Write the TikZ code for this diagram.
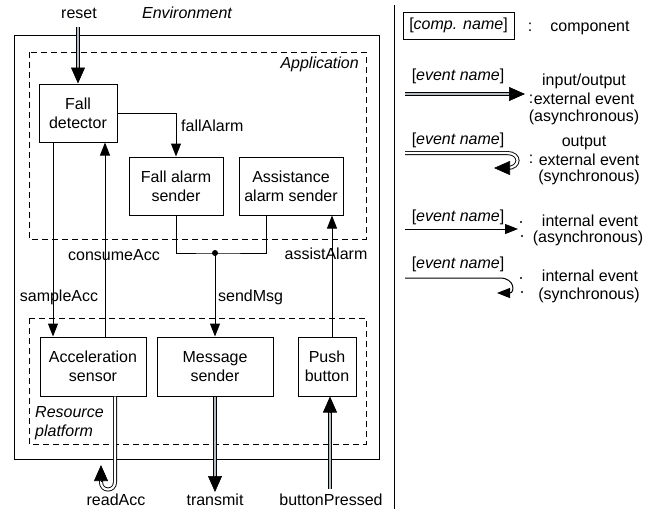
\documentclass[tikz,border=0pt]{standalone}
\usepackage{fontspec}
\setmainfont{Liberation Sans}
\usetikzlibrary{arrows.meta,calc}
\definecolor{dblgray}{RGB}{180,188,196}
\begin{document}
\begin{tikzpicture}[x=1pt,y=-1pt,
  font=\fontsize{16}{19}\selectfont,
  box/.style={draw, line width=1pt, align=center, inner sep=0pt, minimum width=#1, minimum height=58pt},
  conn/.style={line width=1pt},
  intarr/.style={conn, -{Triangle[length=13pt,width=10pt]}},
  extline/.style={line width=0.9pt, double=#1, double distance=2.2pt},
  extline/.default=dblgray,
  exttip/.style={line width=0.6pt, -{Triangle[length=16pt,width=14pt]}},
  dashbox/.style={line width=1pt, dash pattern=on 6pt off 4pt},
  lbl/.style={inner sep=0pt},
  ital/.style={inner sep=0pt, font=\fontsize{16}{19}\selectfont\itshape}
]
\useasboundingbox (0,0) rectangle (658,509);

% frames
\draw[line width=1pt] (14,35) rectangle (379,459);
\draw[dashbox] (29,52) rectangle (366,239);
\draw[dashbox] (29,318) rectangle (366,444);
\draw[line width=1pt] (394,5) -- (394,509);

\node[ital] (envl) at (187,13) {Environment};
\node[ital, anchor=east] (appl) at (359,64) {Application};
\node[ital, anchor=west, align=left] (resl) at (35,423) {Resource\\platform};

% components
\node[box=78pt] (fd) at (78,113) {Fall\\detector};
\node[box=94pt] (fas) at (176,186) {Fall alarm\\sender};
\node[box=104pt] (aas) at (291,186) {Assistance\\alarm sender};
\node[box=106pt, minimum height=59pt] (acc) at (93,366.5) {Acceleration\\sensor};
\node[box=116pt, minimum height=59pt] (ms) at (215,366.5) {Message\\sender};
\node[box=58pt, minimum height=59pt] (pb) at (327,366.5) {Push\\button};

% helper coordinates
\coordinate (xs) at (53,0);
\coordinate (xc) at (105,0);
\coordinate (xa) at (266,0);
\coordinate (xb) at (332,0);
\coordinate (xr) at (115,0);
\coordinate (jn) at (215,253);
\coordinate (resetS) at (78,27);
\coordinate (trE) at (215,492);
\coordinate (bpS) at (330,489);

% internal events
\draw[intarr] (fd.east) -| (fas.north);
\draw[intarr] (fd.south -| xs) -- (acc.north -| xs);
\draw[intarr] (acc.north -| xc) -- (fd.south -| xc);
\draw[conn] (fas.south) |- (jn) -| (aas.south -| xa);
\fill (jn) circle (3pt);
\draw[intarr] (jn) -- (ms.north);
\draw[intarr] (pb.north -| xb) -- (aas.south -| xb);

% external events
\draw[extline, shorten >=10pt] (resetS) -- (fd.north);
\draw[exttip] ($(fd.north)+(0,-16)$) -- (fd.north);

\draw[extline, shorten >=10pt] (ms.south) -- (trE);
\draw[exttip] ($(trE)+(0,-16)$) -- (trE);

\coordinate (bpE) at (pb.south -| bpS);
\draw[extline, shorten >=10pt] (bpS) -- (bpE);
\draw[exttip] ($(bpE)+(0,16)$) -- (bpE);

\coordinate (raE) at (101,465);
\draw[extline=white] (acc.south -| xr) -- (115,482) .. controls (115,492) and (101,492) .. (101,482) -- (101,477);
\draw[exttip] (101,481) -- (raE);

% labels
\node[lbl] (resetl) at (79,13) {reset};
\node[lbl, anchor=west] (fal) at (181,126) {fallAlarm};
\node[lbl] (cal) at (114,255) {consumeAcc};
\node[lbl] (asl) at (326,254) {assistAlarm};
\node[lbl] (sal) at (59,297) {sampleAcc};
\node[lbl, anchor=west] (sml) at (218,297) {sendMsg};
\node[lbl] (ral) at (116,500) {readAcc};
\node[lbl] (trl) at (215,500) {transmit};
\node[lbl] (bpl) at (331,500) {buttonPressed};

% legend
\node[draw, line width=1pt, minimum width=111pt, minimum height=27pt, inner sep=0pt] (lc) at (458.5,25.5) {[\textit{comp. name}]};
\node[lbl] (c1) at (530,27) {:};
\node[lbl] (t1) at (590,28) {component};

% row 2
\node[lbl] (e2) at (458,76) {[\textit{event name}]};
\coordinate (l2a) at (405,94);
\coordinate (l2b) at (525,94);
\draw[extline, shorten >=10pt] (l2a) -- (l2b);
\draw[exttip] ($(l2b)+(-16,0)$) -- (l2b);
\node[lbl] (c2) at (531,99) {:};
\node[lbl] (t2a) at (584,81) {input/output};
\node[lbl] (t2b) at (584,99) {external event};
\node[lbl] (t2c) at (584,117) {(asynchronous)};

% row 3
\node[lbl] (e3) at (458,140) {[\textit{event name}]};
\coordinate (l3a) at (405,153);
\coordinate (l3b) at (494,168);
\draw[extline=white] (l3a) -- (507,153) .. controls (521,153) and (521,168) .. (507,168) -- (504,168);
\draw[exttip] (508,168) -- (l3b);
\node[lbl] (c3) at (531,159) {:};
\node[lbl] (t3a) at (584,143) {output};
\node[lbl] (t3b) at (589,160) {external event};
\node[lbl] (t3c) at (589,177) {(synchronous)};

% row 4
\node[lbl] (e4) at (458,217) {[\textit{event name}]};
\coordinate (l4a) at (405,229);
\coordinate (l4b) at (518,229);
\draw[intarr] (l4a) -- (l4b);
\fill (521,222) circle (1.1pt);
\fill (522,236) circle (1.1pt);
\node[lbl] (t4a) at (590,221) {internal event};
\node[lbl] (t4b) at (588,238) {(asynchronous)};

% row 5
\node[lbl] (e5) at (458,264) {[\textit{event name}]};
\coordinate (l5a) at (405,278);
\coordinate (l5b) at (497,293);
\draw[intarr] (l5a) -- (500,278) .. controls (515,278) and (515,293) .. (l5b);
\fill (521,278) circle (1.1pt);
\fill (522,292) circle (1.1pt);
\node[lbl] (t5a) at (590,276) {internal event};
\node[lbl] (t5b) at (589,295) {(synchronous)};
\end{tikzpicture}
\end{document}
